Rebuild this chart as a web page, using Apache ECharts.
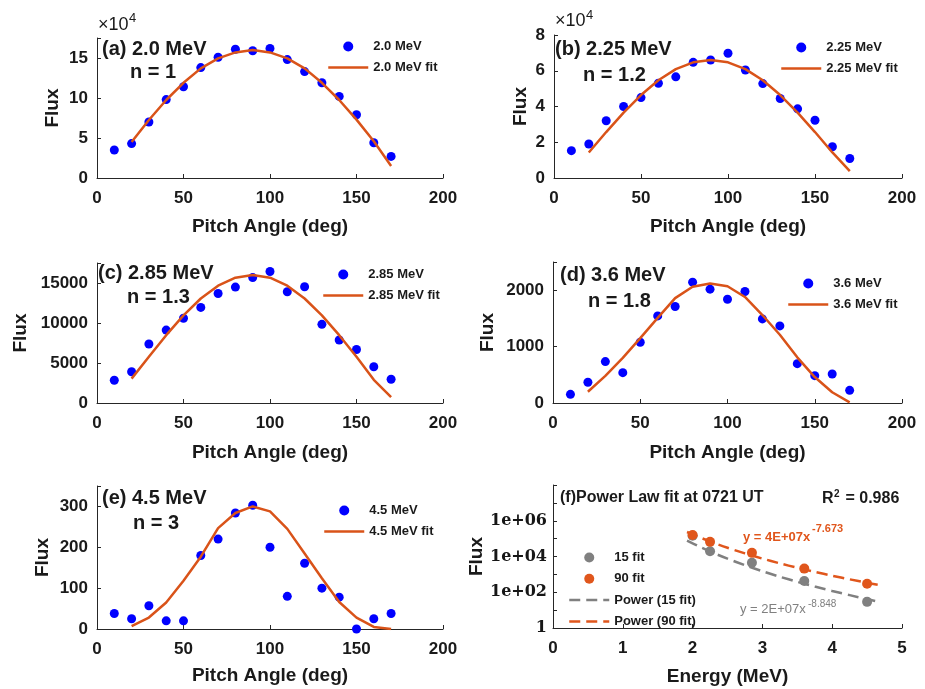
<!DOCTYPE html>
<html>
<head>
<meta charset="utf-8">
<script src="https://cdn.jsdelivr.net/npm/echarts@6/dist/echarts.min.js"></script>
<style>
html, body { margin: 0; padding: 0; background: #ffffff; }
#chart { width: 925px; height: 689px; }
</style>
</head>
<body>
<div id="chart"></div>
<script>
// Pitch-angle grids
const pitchAngles = [10, 20, 30, 40, 50, 60, 70, 80, 90, 100, 110, 120, 130, 140, 150, 160, 170];
const fitAngles = [20, 30, 40, 50, 60, 70, 80, 90, 100, 110, 120, 130, 140, 150, 160, 170];

// (a) 2.0 MeV
const flux20 = [35000, 43000, 70000, 98000, 114000, 138000, 151000, 161000, 159000, 162000, 148000, 133000, 119000, 102000, 79000, 44000, 27000];
const fit20 = [45000, 72500, 97500, 119000, 137000, 149500, 157000, 160000, 157000, 149500, 137000, 119000, 97500, 73000, 46000, 15000];

// (b) 2.25 MeV
const flux225 = [15300, 19000, 32000, 40000, 45000, 53000, 56600, 64700, 66000, 69800, 60400, 52800, 44500, 38700, 32300, 17500, 10900];
const fit225 = [14300, 25700, 36600, 46400, 54700, 60900, 64700, 66000, 64700, 60900, 54700, 46400, 36600, 25700, 14300, 3800];

// (c) 2.85 MeV
const flux285 = [2840, 3900, 7370, 9110, 10590, 11950, 13690, 14490, 15680, 16440, 13900, 14530, 9830, 7880, 6690, 4530, 2970];
const fit285 = [3050, 5770, 8480, 10960, 13060, 14660, 15660, 16000, 15660, 14660, 13060, 10960, 8480, 5770, 2900, 720];

// (d) 3.6 MeV
const flux36 = [154, 367, 734, 538, 1077, 1544, 1710, 2142, 2018, 1840, 1976, 1491, 1367, 698, 485, 515, 225];
const fit36 = [200, 480, 800, 1150, 1510, 1860, 2060, 2120, 2070, 1880, 1560, 1210, 810, 460, 190, 12];

// (e) 4.5 MeV
const flux45 = [38, 25, 57, 20, 20, 180, 220, 284, 303, 200, 80, 161, 100, 78, 0, 25, 38];
const fit45 = [7, 28, 65, 118, 177, 247, 284, 300, 288, 245, 185, 124, 66, 28, 5, 0];

// (f) energy spectrum
const energies = [2.0, 2.25, 2.85, 3.6, 4.5];
const flux15deg = [145000, 19500, 4500, 430, 29];
const flux90deg = [160000, 66000, 16000, 2100, 300];
const powerEnergies = [1.92, 2.1, 2.3, 2.5, 2.75, 3, 3.25, 3.5, 3.75, 4, 4.25, 4.5, 4.66];
const power15 = [78000, 35300, 15700, 7530, 3240, 1500, 738, 383, 208, 118, 69, 41, 30];
const power90 = [235000, 118000, 58700, 30900, 14900, 7640, 4130, 2340, 1380, 840, 528, 340, 260];

const FONT = '"Liberation Sans", Arial, Helvetica, sans-serif';
const INK = '#1a1a1a';
const AXIS = '#262626';
const BLUE = '#0000FF';
const FIT = '#D95319';
const GREY = '#808080';
const ORANGE = '#E0561C';

const pairs = (xs, ys) => xs.map((x, i) => [x, ys[i]]);

function xAxisCfg(gridIndex, max, interval, name, nameGap) {
  return {
    type: 'value', gridIndex, min: 0, max, interval,
    name, nameLocation: 'middle', nameGap,
    nameTextStyle: { fontFamily: FONT, fontWeight: 'bold', fontSize: 19, color: INK },
    axisLine: { show: true, onZero: false, lineStyle: { color: AXIS, width: 1 } },
    axisTick: { show: true, inside: true, length: 4, lineStyle: { color: AXIS } },
    axisLabel: { fontFamily: FONT, fontWeight: 'bold', fontSize: 17, color: INK, margin: 12 },
    splitLine: { show: false }
  };
}

function yAxisCfg(gridIndex, max, interval, nameGap, formatter) {
  return {
    type: 'value', gridIndex, min: 0, max, interval,
    name: 'Flux', nameLocation: 'middle', nameGap,
    nameTextStyle: { fontFamily: FONT, fontWeight: 'bold', fontSize: 19, color: INK },
    axisLine: { show: true, onZero: false, lineStyle: { color: AXIS, width: 1 } },
    axisTick: { show: true, inside: true, length: 4, lineStyle: { color: AXIS } },
    axisLabel: { fontFamily: FONT, fontWeight: 'bold', fontSize: 17, color: INK, margin: 9, formatter },
    splitLine: { show: false }
  };
}

const scaled = (step, div) => v => (Math.abs(v % step) < 1e-9 ? String(v / div) : '');

// legend entries for fitted curves show only a thick stroke, no marker
const lineEntry = name => ({ name, itemStyle: { opacity: 0 }, lineStyle: { width: 2.5 } });

function legendCfg(left, top, names) {
  return {
    left, top, orient: 'vertical', itemWidth: 40, itemHeight: 10, itemGap: 8,
    selectedMode: false, data: names, padding: 0,
    textStyle: { fontFamily: FONT, fontWeight: 'bold', fontSize: 13, color: INK }
  };
}

function pitchSeries(idx, label, flux, fit) {
  return [
    { type: 'scatter', name: label, xAxisIndex: idx, yAxisIndex: idx, data: pairs(pitchAngles, flux),
      symbolSize: 9, itemStyle: { color: BLUE, opacity: 1 }, clip: false },
    { type: 'line', name: label + ' fit', xAxisIndex: idx, yAxisIndex: idx, data: pairs(fitAngles, fit),
      symbol: 'none', lineStyle: { color: FIT, width: 2.5 }, itemStyle: { color: FIT } }
  ];
}

function txt(x, y, text, size, opts) {
  return {
    type: 'text', x, y, silent: true,
    style: Object.assign({
      text, fontFamily: FONT, fontSize: size, fontWeight: 'bold', fill: INK,
      verticalAlign: 'middle', align: 'left'
    }, opts || {})
  };
}

const logLabel = v => {
  const e = Math.round(Math.log10(v));
  if (e % 2 !== 0 || e >= 8) return '';
  return e === 0 ? '1' : '1e+0' + e;
};

const option = {
  animation: false,
  backgroundColor: '#ffffff',
  grid: [
    { left: 97, right: 482, top: 38, bottom: 511 },
    { left: 554, right: 23, top: 35, bottom: 511 },
    { left: 97, right: 482, top: 263, bottom: 286 },
    { left: 553, right: 23, top: 262, bottom: 286 },
    { left: 97, right: 482, top: 486, bottom: 60 },
    { left: 553, right: 23, top: 485, bottom: 61 }
  ],
  xAxis: [
    xAxisCfg(0, 200, 50, 'Pitch Angle (deg)', 39),
    xAxisCfg(1, 200, 50, 'Pitch Angle (deg)', 39),
    xAxisCfg(2, 200, 50, 'Pitch Angle (deg)', 40),
    xAxisCfg(3, 200, 50, 'Pitch Angle (deg)', 40),
    xAxisCfg(4, 200, 50, 'Pitch Angle (deg)', 37),
    xAxisCfg(5, 5, 1, 'Energy (MeV)', 39)
  ],
  yAxis: [
    yAxisCfg(0, 175000, 50000, 35, scaled(50000, 10000)),
    yAxisCfg(1, 80000, 20000, 24, scaled(20000, 10000)),
    yAxisCfg(2, 17500, 5000, 67, scaled(5000, 1)),
    yAxisCfg(3, 2500, 1000, 56, scaled(1000, 1)),
    yAxisCfg(4, 350, 100, 45, scaled(100, 1)),
    {
      type: 'log', logBase: 10, gridIndex: 5, min: 1, max: 1e8, splitNumber: 8,
      name: 'Flux', nameLocation: 'middle', nameGap: 66,
      nameTextStyle: { fontFamily: FONT, fontWeight: 'bold', fontSize: 19, color: INK },
      axisLine: { show: true, onZero: false, lineStyle: { color: AXIS, width: 1 } },
      axisTick: { show: true, inside: true, length: 4, lineStyle: { color: AXIS } },
      axisLabel: { fontFamily: '"DejaVu Serif", serif', fontWeight: 'bold', fontSize: 16, color: '#161616', margin: 6, formatter: logLabel },
      splitLine: { show: false }
    }
  ],
  legend: [
    legendCfg(327, 40, ['2.0 MeV', lineEntry('2.0 MeV fit')]),
    legendCfg(780, 41, ['2.25 MeV', lineEntry('2.25 MeV fit')]),
    legendCfg(322, 268, ['2.85 MeV', lineEntry('2.85 MeV fit')]),
    legendCfg(787, 277, ['3.6 MeV', lineEntry('3.6 MeV fit')]),
    legendCfg(323, 504, ['4.5 MeV', lineEntry('4.5 MeV fit')]),
    Object.assign(legendCfg(568, 551, ['15 fit', '90 fit', lineEntry('Power (15 fit)'), lineEntry('Power (90 fit)')]), { itemGap: 8.3 })
  ],
  series: [
    ...pitchSeries(0, '2.0 MeV', flux20, fit20),
    ...pitchSeries(1, '2.25 MeV', flux225, fit225),
    ...pitchSeries(2, '2.85 MeV', flux285, fit285),
    ...pitchSeries(3, '3.6 MeV', flux36, fit36),
    ...pitchSeries(4, '4.5 MeV', flux45, fit45),
    { type: 'line', name: 'Power (15 fit)', xAxisIndex: 5, yAxisIndex: 5, data: pairs(powerEnergies, power15),
      symbol: 'none', smooth: 0.3, lineStyle: { color: GREY, width: 2.5, type: [11, 6] }, itemStyle: { color: GREY } },
    { type: 'line', name: 'Power (90 fit)', xAxisIndex: 5, yAxisIndex: 5, data: pairs(powerEnergies, power90),
      symbol: 'none', smooth: 0.3, lineStyle: { color: ORANGE, width: 2.5, type: [11, 6] }, itemStyle: { color: ORANGE } },
    { type: 'scatter', name: '15 fit', xAxisIndex: 5, yAxisIndex: 5, data: pairs(energies, flux15deg),
      symbolSize: 10, itemStyle: { color: GREY, opacity: 1 } },
    { type: 'scatter', name: '90 fit', xAxisIndex: 5, yAxisIndex: 5, data: pairs(energies, flux90deg),
      symbolSize: 10, itemStyle: { color: ORANGE, opacity: 1 } }
  ],
  graphic: [
    // axis multipliers
    txt(98, 25, '\u00d710', 18, { fontWeight: 'normal' }),
    txt(129, 18, '4', 13, { fontWeight: 'normal' }),
    txt(555, 21, '\u00d710', 18, { fontWeight: 'normal' }),
    txt(586, 15, '4', 13, { fontWeight: 'normal' }),
    // panel captions
    txt(102, 49, '(a) 2.0 MeV', 20),
    txt(130, 72, 'n = 1', 20),
    txt(555, 49, '(b) 2.25 MeV', 20),
    txt(583, 75, 'n = 1.2', 20),
    txt(98, 273, '(c) 2.85 MeV', 20),
    txt(127, 297, 'n = 1.3', 20),
    txt(560, 275, '(d) 3.6 MeV', 20),
    txt(588, 301, 'n = 1.8', 20),
    txt(102, 498, '(e) 4.5 MeV', 20),
    txt(133, 523, 'n = 3', 20),
    // power-law panel annotations
    txt(560, 498, '(f)Power Law fit at 0721 UT', 16),
    txt(822, 499, 'R', 16),
    txt(834, 494, '2', 10),
    txt(841, 499, ' = 0.986', 16),
    txt(743, 537, 'y = 4E+07x', 13, { fill: ORANGE }),
    txt(812, 529, '-7.673', 11, { fill: ORANGE }),
    txt(740, 609, 'y = 2E+07x', 13, { fill: GREY, fontWeight: 'normal' }),
    txt(808, 604, '-8.848', 10, { fill: GREY, fontWeight: 'normal' })
  ]
};

const chart = echarts.init(document.getElementById('chart'), null, { renderer: 'canvas' });
chart.setOption(option);
</script>
</body>
</html>
